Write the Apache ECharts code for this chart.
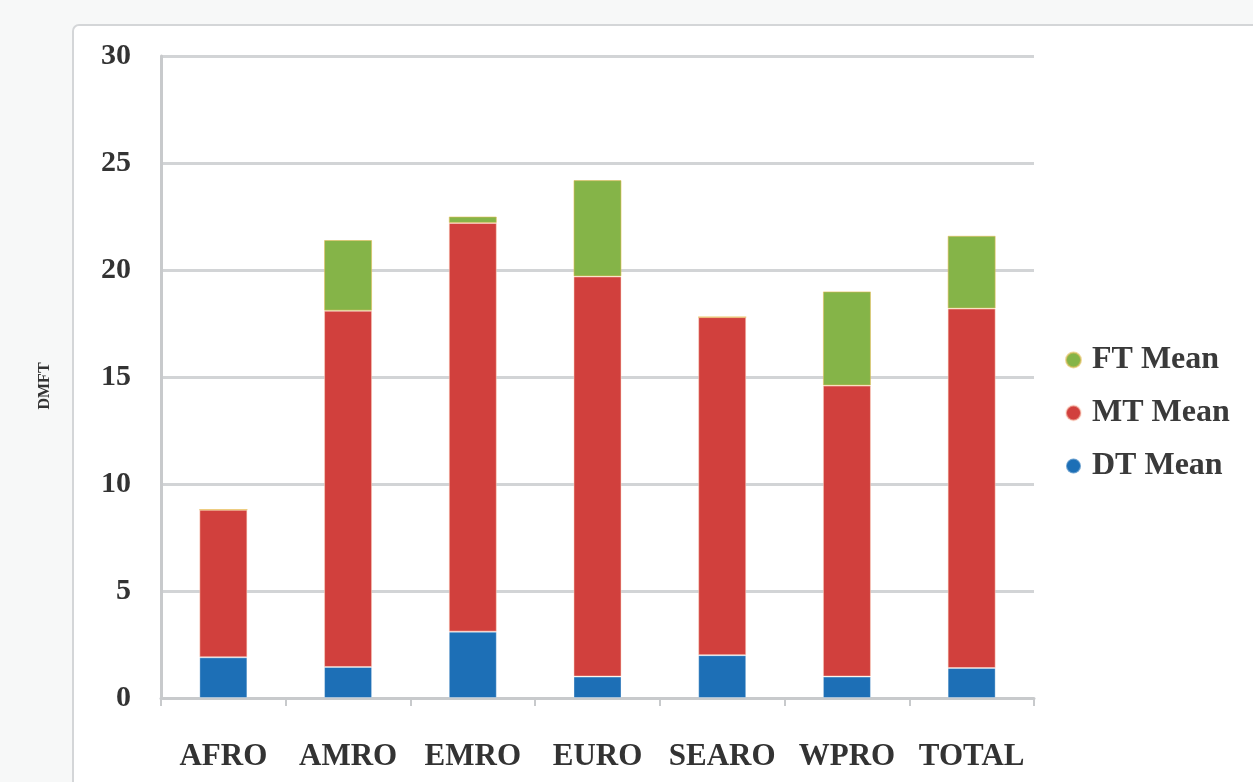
<!DOCTYPE html>
<html>
<head>
<meta charset="utf-8">
<script src="https://cdn.jsdelivr.net/npm/echarts@6/dist/echarts.min.js"></script>
<style>
html,body{margin:0;padding:0;background:#f7f8f8;}
#c{width:1253px;height:782px;}
</style>
</head>
<body>
<div id="c"></div>
<script>
const categories = ['AFRO','AMRO','EMRO','EURO','SEARO','WPRO','TOTAL'];
const dtMean = [1.9, 1.45, 3.1, 1.0, 2.0, 1.0, 1.4];
const mtMean = [6.9, 16.65, 19.1, 18.7, 15.8, 13.6, 16.8];
const ftMean = [0.0, 3.3, 0.3, 4.5, 0.0, 4.4, 3.4];
const yTicks = [0, 5, 10, 15, 20, 25, 30];

const chart = echarts.init(document.getElementById('c'));
const font = 'Liberation Serif';
chart.setOption({
  backgroundColor: '#f7f8f8',
  animation: false,
  graphic: [{
    type: 'rect',
    shape: {x: 73, y: 25, width: 1200, height: 780, r: 6},
    style: {fill: '#ffffff', stroke: '#d4d6d8', lineWidth: 2},
    z: -10
  }, {
    type: 'text',
    x: 45, y: 386, rotation: Math.PI / 2,
    style: {text: 'DMFT', fontFamily: font, fontSize: 16, fontWeight: 'bold', fill: '#333',
      align: 'center', verticalAlign: 'middle'}
  }],
  grid: {left: 161, right: 219, top: 56, bottom: 84, containLabel: false},
  legend: {
    orient: 'vertical',
    left: 1060,
    top: 339,
    itemGap: 21,
    itemWidth: 15,
    itemHeight: 15,
    icon: 'circle',
    data: ['FT Mean', 'MT Mean', 'DT Mean'],
    textStyle: {fontFamily: font, fontSize: 32, fontWeight: 'bold', color: '#3a3a3a', padding: [0, 0, 0, 6]}
  },
  xAxis: {
    type: 'category',
    data: categories,
    axisLine: {lineStyle: {color: '#c8cacc', width: 3}},
    axisTick: {show: true, length: 8, lineStyle: {color: '#c8cacc', width: 2}},
    axisLabel: {fontFamily: font, fontSize: 31, fontWeight: 'bold', color: '#333', margin: 43, interval: 0}
  },
  yAxis: {
    type: 'value',
    min: 0, max: 30, interval: 5,
    axisLine: {show: true, lineStyle: {color: '#c8cacc', width: 3}},
    axisTick: {show: false},
    axisLabel: {fontFamily: font, fontSize: 30, fontWeight: 'bold', color: '#333', margin: 30,
      formatter: v => yTicks.includes(v) ? String(v) : ''},
    splitLine: {lineStyle: {color: '#d2d4d6', width: 3}}
  },
  series: [
    {name: 'DT Mean', type: 'bar', stack: 's', data: dtMean, barWidth: '38.5%',
     itemStyle: {color: '#1d6fb6', borderColor: 'rgba(255,255,255,0.35)', borderWidth: 1}},
    {name: 'MT Mean', type: 'bar', stack: 's', data: mtMean, barWidth: '38.5%',
     itemStyle: {color: '#d1403d', borderColor: 'rgba(255,220,200,0.5)', borderWidth: 1}},
    {name: 'FT Mean', type: 'bar', stack: 's', data: ftMean, barWidth: '38.5%',
     itemStyle: {color: '#85b448', borderColor: 'rgba(230,190,90,0.6)', borderWidth: 1}}
  ]
});
</script>
</body>
</html>
